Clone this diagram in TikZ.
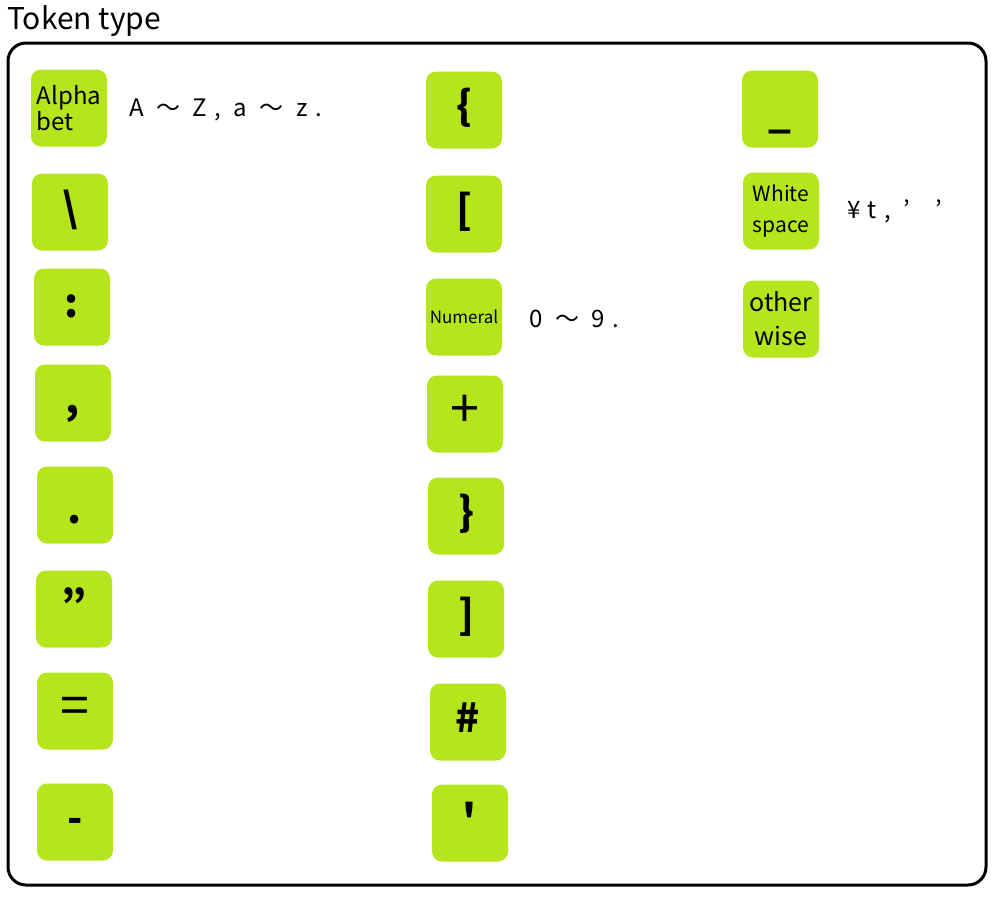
\documentclass[tikz,border=0pt]{standalone}
\usepackage{fontspec}
\setmainfont{Noto Sans CJK JP}
\newfontfamily\descfont[LetterSpace=30]{Noto Sans CJK JP}
\definecolor{tokgreen}{RGB}{181,230,29}
\tikzset{
  tok/.style={fill=tokgreen, rounded corners=10pt, minimum width=76pt, minimum height=77pt, inner sep=0pt, align=center},
  sym/.style={font=\fontsize{40}{40}\selectfont\bfseries, text height=29pt, text depth=9pt},
  bigsym/.style={font=\fontsize{52}{52}\selectfont, text height=38pt, text depth=12pt},
  desc/.style={anchor=west, font=\descfont\fontsize{24}{24}\selectfont, inner sep=0pt},
  frame/.style={draw=black, line width=3pt, rounded corners=18pt}
}
\begin{document}
\begin{tikzpicture}[x=1pt,y=-1pt]
\useasboundingbox (0,0) rectangle (997,898);
\node[anchor=north west, inner sep=0pt, font=\fontsize{30}{30}\selectfont] (title) at (7,5) {Token type};
\draw[frame] (8,43) rectangle (986,885);
% column 1
\node[tok, font=\fontsize{24}{22}\selectfont, align=left] (alpha) at (69,108) {Alpha\\bet};
\node[desc] (alphad) at (129,110) {A ～ Z, a ～ z.};
\node[tok, sym] (bs) at (70,212) {\textbackslash};
\node[tok, sym] (colon) at (72,307) {:};
\node[tok, sym] (comma) at (73,403) {,};
\node[tok, sym, text height=37pt, text depth=1pt] (dot) at (75,505) {.};
\node[tok, sym] (quote) at (74,609) {"};
\node[tok, bigsym] (eq) at (75,711) {=};
\node[tok, sym] (minus) at (75,822) {-};
% column 2
\node[tok, sym] (lbrace) at (464,110) {\{};
\node[tok, sym] (lbrack) at (464,214) {[};
\node[tok, font=\fontsize{17}{17}\selectfont] (num) at (464,317) {Numeral};
\node[desc] (numd) at (529,319) {0 ～ 9.};
\node[tok, bigsym] (plus) at (465,414) {+};
\node[tok, sym] (rbrace) at (466,516) {\}};
\node[tok, sym] (rbrack) at (466,619) {]};
\node[tok, sym] (hash) at (468,722) {\#};
\node[tok, sym] (apos) at (470,823) {\textquotesingle};
% column 3
\node[tok, sym, text height=37pt, text depth=1pt] (under) at (780,109) {\_};
\node[tok, font=\fontsize{21}{31}\selectfont] (white) at (781,211) {White\\space};
\node[desc] (whited) at (847,211) {¥t, ’\ \ ’};
\node[tok, font=\fontsize{25}{34}\selectfont] (other) at (781,319) {other\\wise};
\end{tikzpicture}
\end{document}
